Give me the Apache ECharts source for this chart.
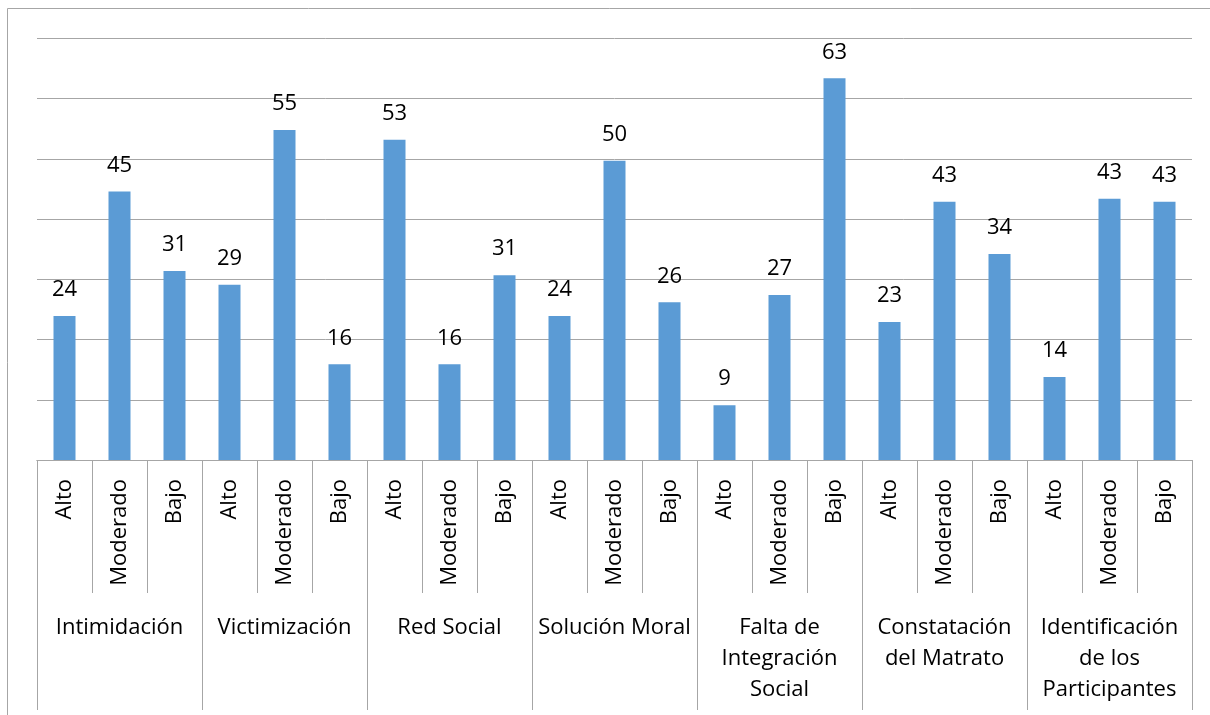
<!DOCTYPE html>
<html>
<head>
<meta charset="utf-8">
<script src="https://cdn.jsdelivr.net/npm/echarts@6/dist/echarts.min.js"></script>
<style>html,body{margin:0;padding:0;background:#fff;}#c{width:1210px;height:715px;}</style>
</head>
<body>
<div id="c"></div>
<script>
var groups = ['Intimidación', 'Victimización', 'Red Social', 'Solución Moral', 'Falta de\nIntegración\nSocial', 'Constatación\ndel Matrato', 'Identificación\nde los\nParticipantes'];
var levels = ['Alto', 'Moderado', 'Bajo'];
var values = [23.9, 44.6, 31.4, 29.1, 54.8, 15.9, 53.2, 15.9, 30.7, 23.9, 49.7, 26.2, 9.1, 27.4, 63.4, 22.9, 42.9, 34.2, 13.8, 43.4, 42.9];
var labels = [24, 45, 31, 29, 55, 16, 53, 16, 31, 24, 50, 26, 9, 27, 63, 23, 43, 34, 14, 43, 43];

var subCats = [];
groups.forEach(function (g) { levels.forEach(function (l) { subCats.push(l); }); });

var chart = echarts.init(document.getElementById('c'));
var FONT = 'Open Sans';
chart.setOption({
  animation: false,
  textStyle: { fontFamily: FONT },
  graphic: [{
    type: 'rect', shape: { x: 7.5, y: 8.5, width: 1400, height: 1000 },
    style: { fill: 'none', stroke: '#A6A6A6', lineWidth: 1 }, silent: true
  }],
  grid: { left: 37, right: 18, top: 38.5, bottom: 255, containLabel: false },
  xAxis: [{
    type: 'category', data: subCats, position: 'bottom',
    axisLine: { show: true, onZero: false, lineStyle: { color: '#A6A6A6', width: 1 } },
    axisTick: { show: true, alignWithLabel: false, length: 133, interval: 0, lineStyle: { color: '#A6A6A6', width: 1 } },
    axisLabel: { show: true, interval: 0, rotate: 90, margin: 19, fontSize: 22, color: '#000', fontFamily: FONT }
  }, {
    type: 'category', data: groups, position: 'bottom',
    axisLine: { show: true, onZero: false, lineStyle: { color: '#A6A6A6', width: 1 } },
    axisTick: { show: true, alignWithLabel: false, length: 250, interval: 0, lineStyle: { color: '#A6A6A6', width: 1 } },
    axisLabel: { show: true, interval: 0, margin: 152, fontSize: 22, lineHeight: 31, color: '#000', fontFamily: FONT, align: 'center', verticalAlign: 'top' }
  }],
  yAxis: {
    type: 'value', min: 0, max: 70, interval: 10,
    axisLine: { show: false }, axisTick: { show: false }, axisLabel: { show: false },
    splitLine: { lineStyle: { color: '#A6A6A6', width: 1 } }
  },
  series: [{
    type: 'bar', xAxisIndex: 0, data: values, barWidth: '40%',
    itemStyle: { color: '#5B9BD5' },
    label: {
      show: true, position: 'top', distance: 15, fontSize: 22, color: '#000', fontFamily: FONT,
      formatter: function (p) { return labels[p.dataIndex]; }
    }
  }]
});
</script>
</body>
</html>
